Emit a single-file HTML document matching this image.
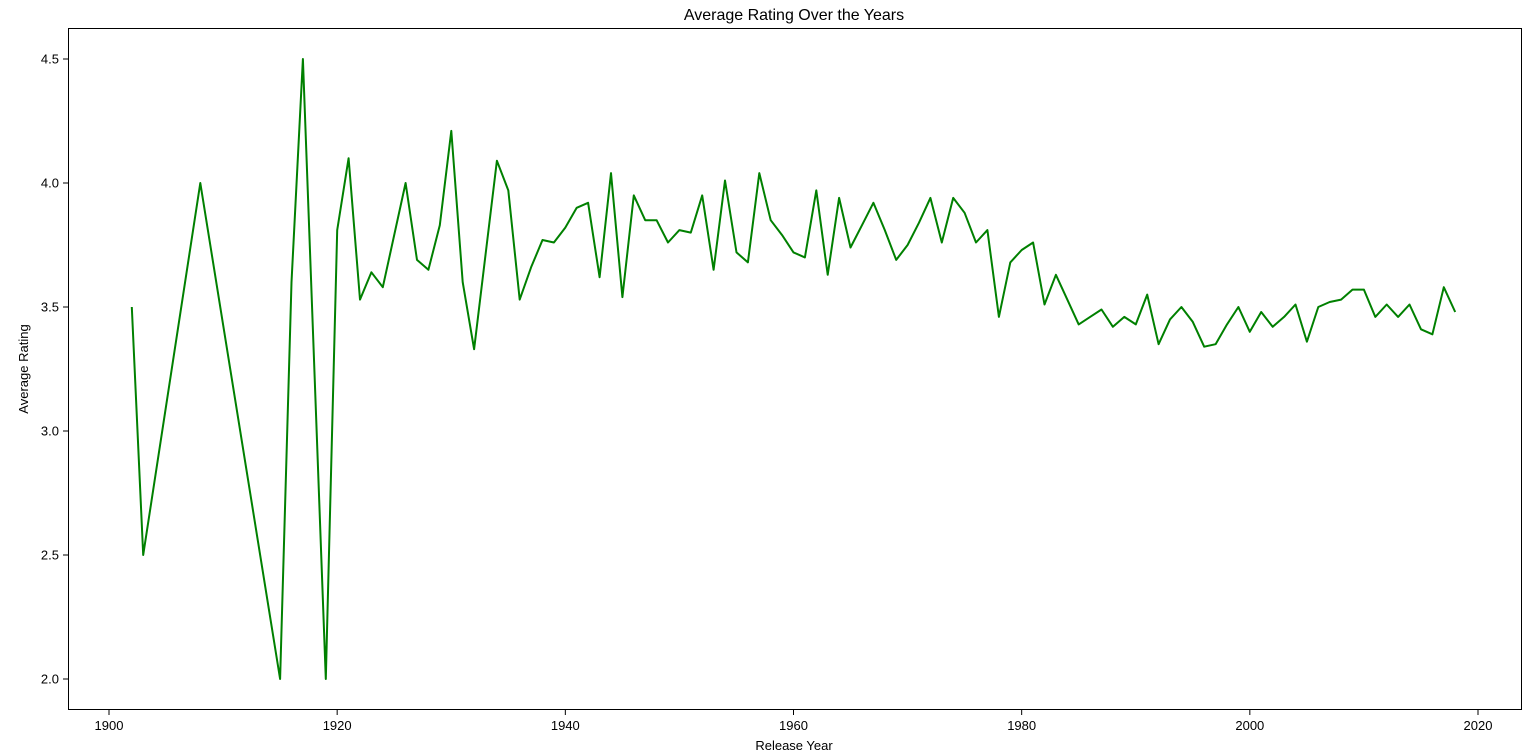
<!DOCTYPE html>
<html><head><meta charset="utf-8"><style>
html,body{margin:0;padding:0;background:#fff;}
svg{display:block;font-family:"Liberation Sans","DejaVu Sans",sans-serif;}
</style></head><body>
<svg id="chart" width="1536" height="754">
<text x="794" y="20" text-anchor="middle" font-size="16" fill="#000">Average Rating Over the Years</text>
<rect x="68.5" y="28.5" width="1453" height="681" fill="none" stroke="#000" stroke-width="1"/>
<g id="xaxis"></g>
<g id="yaxis"></g>
<text x="794" y="750" text-anchor="middle" font-size="13">Release Year</text>
<text transform="translate(28,369) rotate(-90)" text-anchor="middle" font-size="13">Average Rating</text>
<path id="line" fill="none" stroke="#008000" stroke-width="2" stroke-linejoin="round"/>
</svg>
<script>
const years=[1902,1903,1908,1915,1916,1917,1919,1920,1921,1922,1923,1924,1926,1927,1928,1929,1930,1931,1932,1934,1935,1936,1937,1938,1939,1940,1941,1942,1943,1944,1945,1946,1947,1948,1949,1950,1951,1952,1953,1954,1955,1956,1957,1958,1959,1960,1961,1962,1963,1964,1965,1966,1967,1968,1969,1970,1971,1972,1973,1974,1975,1976,1977,1978,1979,1980,1981,1982,1983,1984,1985,1986,1987,1988,1989,1990,1991,1992,1993,1994,1995,1996,1997,1998,1999,2000,2001,2002,2003,2004,2005,2006,2007,2008,2009,2010,2011,2012,2013,2014,2015,2016,2017,2018];
const ratings=[3.5,2.5,4.0,2.0,3.6,4.5,2.0,3.81,4.10,3.53,3.64,3.58,4.0,3.69,3.65,3.83,4.21,3.60,3.33,4.09,3.97,3.53,3.66,3.77,3.76,3.82,3.90,3.92,3.62,4.04,3.54,3.95,3.85,3.85,3.76,3.81,3.80,3.95,3.65,4.01,3.72,3.68,4.04,3.85,3.79,3.72,3.70,3.97,3.63,3.94,3.74,3.83,3.92,3.81,3.69,3.75,3.84,3.94,3.76,3.94,3.88,3.76,3.81,3.46,3.68,3.73,3.76,3.51,3.63,3.53,3.43,3.46,3.49,3.42,3.46,3.43,3.55,3.35,3.45,3.50,3.44,3.34,3.35,3.43,3.50,3.40,3.48,3.42,3.46,3.51,3.36,3.50,3.52,3.53,3.57,3.57,3.46,3.51,3.46,3.51,3.41,3.39,3.58,3.48];
const xTicks=[1900,1920,1940,1960,1980,2000,2020];
const yTicks=[2.0,2.5,3.0,3.5,4.0,4.5];
const NS="http://www.w3.org/2000/svg";
function xs(v){return 109+(v-1900)*(1478-109)/120;}
function ys(v){return 679-(v-2.0)*(679-59)/2.5;}
const xg=document.getElementById('xaxis'),yg=document.getElementById('yaxis');
xTicks.forEach(t=>{
 const l=document.createElementNS(NS,'line');
 
 
 l.setAttribute('x1',xs(t));l.setAttribute('x2',xs(t));l.setAttribute('y1',710);l.setAttribute('y2',715);l.setAttribute('stroke','#000');
 xg.appendChild(l);
 const tx=document.createElementNS(NS,'text');
 
 
 tx.setAttribute('x',xs(t));tx.setAttribute('y',730);tx.setAttribute('text-anchor','middle');tx.setAttribute('font-size','13');
 tx.textContent=t;xg.appendChild(tx);
});
yTicks.forEach(t=>{
 const l=document.createElementNS(NS,'line');
 
 
 l.setAttribute('x1',63);l.setAttribute('x2',68);l.setAttribute('y1',ys(t));l.setAttribute('y2',ys(t));l.setAttribute('stroke','#000');
 yg.appendChild(l);
 const tx=document.createElementNS(NS,'text');
 
 
 tx.setAttribute('x',59);tx.setAttribute('y',ys(t)+4.5);tx.setAttribute('text-anchor','end');tx.setAttribute('font-size','13');
 tx.textContent=t.toFixed(1);yg.appendChild(tx);
});
document.getElementById('line').setAttribute('d',years.map((y,i)=>(i?'L':'M')+xs(y).toFixed(1)+','+ys(ratings[i]).toFixed(1)).join(''));
</script>
</body></html>
